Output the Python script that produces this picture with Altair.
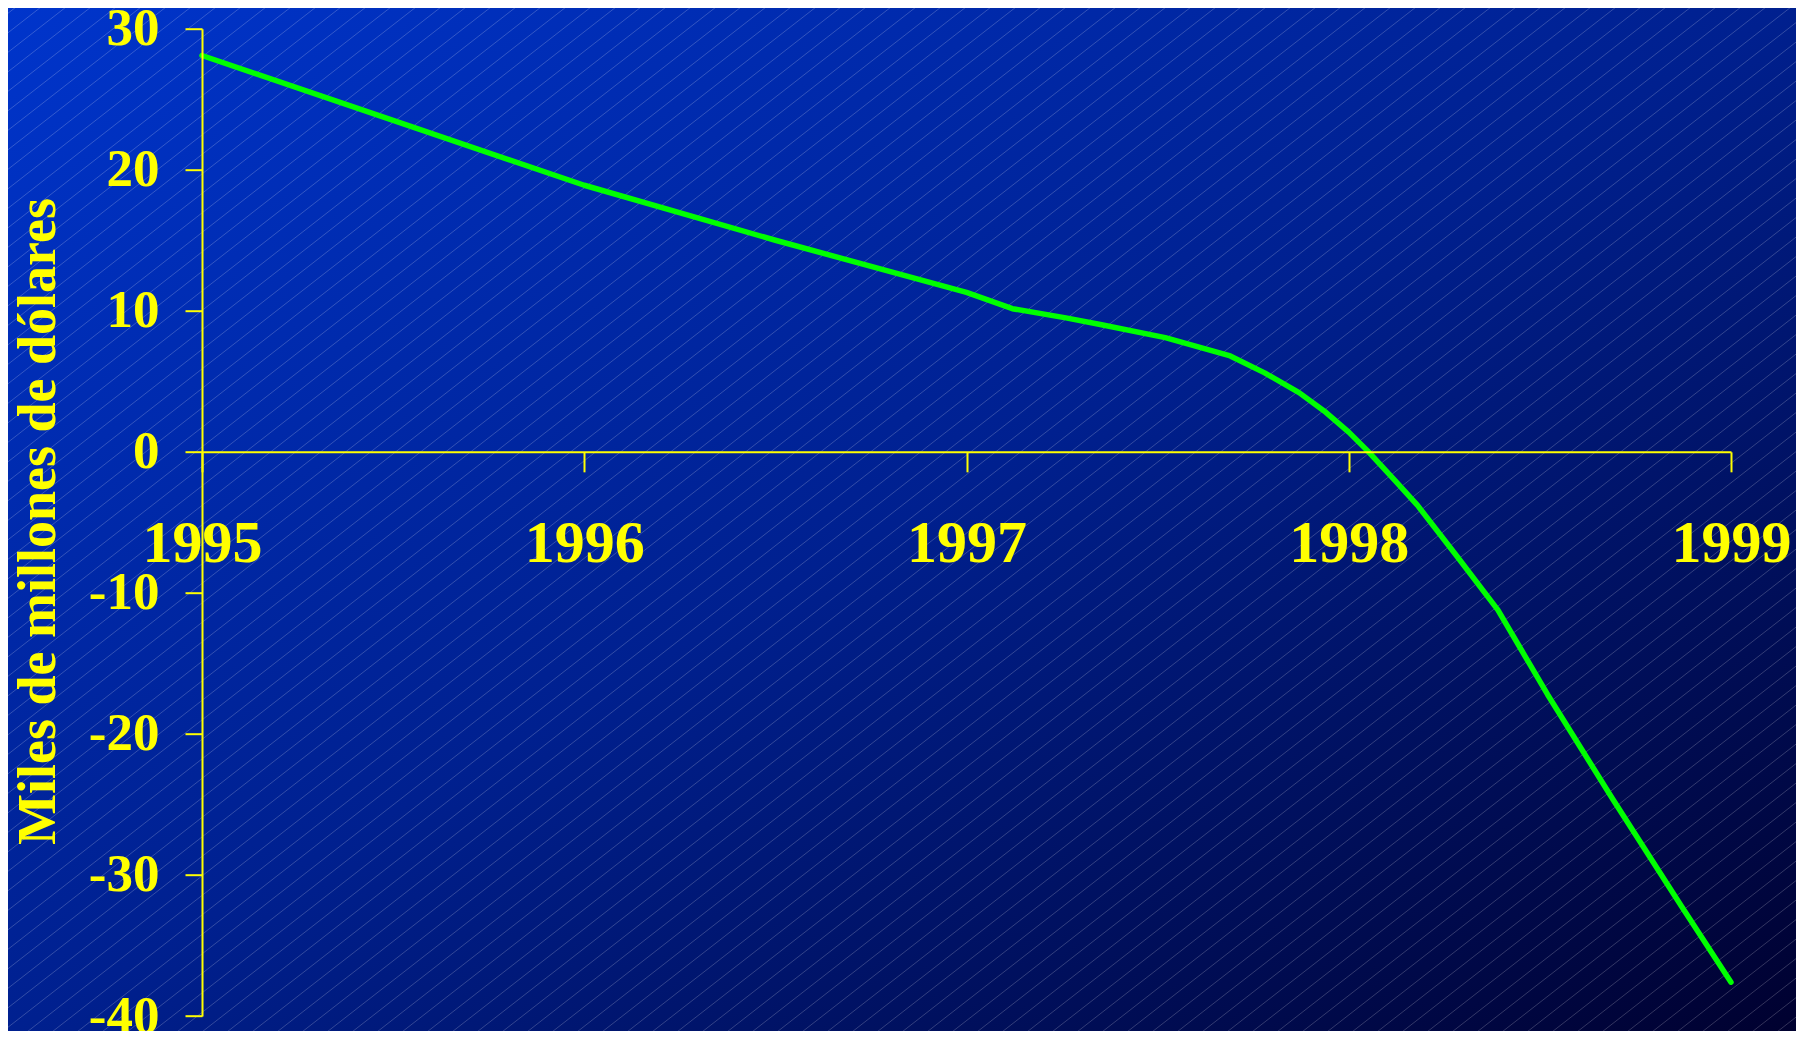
import altair as alt
import pandas as pd

# ---- data ----
years = [1995.0, 1995.5, 1996.0, 1996.5, 1997.0, 1997.12, 1997.26, 1997.35,
         1997.52, 1997.69, 1997.78, 1997.87, 1997.94, 1998.0, 1998.05,
         1998.12, 1998.18, 1998.28, 1998.39, 1998.52, 1998.69, 1998.87, 1999.0]
values = [28.1, 23.5, 18.9, 15.0, 11.3, 10.15, 9.5, 9.03,
          8.1, 6.8, 5.6, 4.2, 2.8, 1.4, 0.05,
          -2.0, -3.8, -7.3, -11.2, -17.2, -24.6, -32.2, -37.6]
x_ticks = [1995, 1996, 1997, 1998, 1999]
y_ticks = [30, 20, 10, 0, -10, -20, -30, -40]
y_title = "Miles de millones de dólares"

# ---- layout ----
W, H = 1529, 987.3
PAD_L, PAD_T, PAD_R, PAD_B = 194, 20.7, 65, 15
ZERO_Y = H * 30 / 70
OX, OY = -(PAD_L + 8), -(PAD_T + 8)   # page origin in plot coords

YELLOW = "#ffff00"
FONT = "Liberation Serif"

df = pd.DataFrame({"year": years, "val": values})

bg = alt.Chart(pd.DataFrame({"a": [0]})).mark_rect(
    fill={
        "gradient": "linear", "x1": 0, "y1": 0, "x2": 1, "y2": 1,
        "stops": [
            {"offset": 0, "color": "#0035cc"},
            {"offset": 0.5, "color": "#00208f"},
            {"offset": 1, "color": "#00002e"},
        ],
    }
).encode(
    x=alt.value(OX), x2=alt.value(OX + 1804),
    y=alt.value(OY), y2=alt.value(OY + 1039),
)

hatch = alt.Chart(alt.sequence(0, 135, as_="k")).transform_calculate(
    xa=f"{OX} + datum.k * 25",
    ya=f"{OY}",
    xb=f"{OX} + datum.k * 25 - 1340",
    yb=f"{OY} + 1340 * 0.78",
).mark_rule(stroke="#ffffff", strokeOpacity=0.2, strokeWidth=1).encode(
    x=alt.X("xa:Q", scale=None, axis=None),
    x2="xb:Q",
    y=alt.Y("ya:Q", scale=None, axis=None),
    y2="yb:Q",
)

line = alt.Chart(df).mark_line(
    color="#00ff00", strokeWidth=5.5, strokeCap="round", strokeJoin="round",
    interpolate="linear",
).encode(
    x=alt.X(
        "year:Q",
        scale=alt.Scale(domain=[1995, 1999], nice=False, zero=False),
        axis=alt.Axis(
            values=x_ticks, format="d", offset=-(H - ZERO_Y), tickSize=20,
            labelPadding=90, labelBaseline="alphabetic", labelFontSize=60,
            labelFont=FONT, labelFontWeight="bold", labelColor=YELLOW,
            domainColor=YELLOW, tickColor=YELLOW, domainWidth=2, tickWidth=2,
            grid=False, title=None, labelFlush=False, labelOverlap=False,
            zindex=1,
        ),
    ),
    y=alt.Y(
        "val:Q",
        scale=alt.Scale(domain=[-40, 30], nice=False, zero=False),
        axis=alt.Axis(
            values=y_ticks, tickSize=17, labelPadding=26, labelFontSize=53,
            labelExpr="'' + datum.value",
            labelFont=FONT, labelFontWeight="bold", labelColor=YELLOW,
            labelBaseline="middle", labelAlign="right",
            domainColor=YELLOW, tickColor=YELLOW, domainWidth=2, tickWidth=2,
            grid=False, labelOverlap=False, labelFlush=False,
            title=y_title, titleFont=FONT, titleFontSize=54,
            titleFontWeight="bold", titleColor=YELLOW, titleAngle=270,
            titleX=-148, titleY=492.3, titleBaseline="alphabetic",
            titleAlign="center", zindex=1,
        ),
    ),
)

chart = alt.layer(bg, hatch, line).resolve_scale(
    x="independent", y="independent"
).properties(
    width=W, height=H,
    autosize=alt.AutoSizeParams(type="none"),
    padding={"left": PAD_L, "top": PAD_T, "right": PAD_R, "bottom": PAD_B},
    background="#001a80",
).configure_view(stroke=None)

chart.save("out.html", embed_options={"renderer": "svg", "actions": False})
